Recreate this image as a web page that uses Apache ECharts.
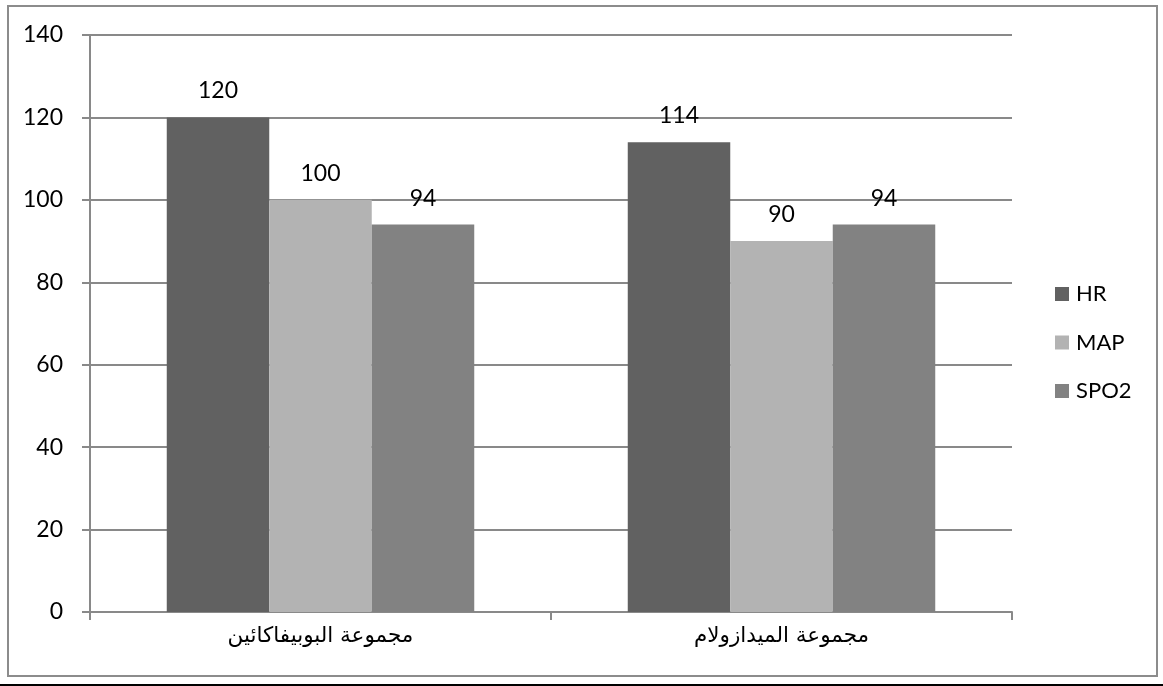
<!DOCTYPE html>
<html>
<head>
<meta charset="utf-8">
<script src="https://cdn.jsdelivr.net/npm/echarts@6/dist/echarts.min.js"></script>
<style>
  html, body { margin: 0; padding: 0; background: #fff; }
  #chart { width: 1163px; height: 686px; }
</style>
</head>
<body>
<div id="chart"></div>
<script>
// Group names (x axis) and the three measured vitals per group
const categories = ['مجموعة البوبيفاكائين', 'مجموعة الميدازولام'];
const hrValues = [120, 114];
const mapValues = [100, 90];
const spo2Values = [94, 94];
const seriesNames = ['HR', 'MAP', 'SPO2'];
const seriesColors = ['#616161', '#b3b3b3', '#828282'];

const latin = 'Lato, "Open Sans", sans-serif';
const arabic = '"DejaVu Sans", Lato, sans-serif';
const gridGray = '#898989';

const chart = echarts.init(document.getElementById('chart'), null, { renderer: 'canvas' });

function barSeries(name, data, color) {
  return {
    name: name,
    type: 'bar',
    data: data,
    barGap: '0%',
    barCategoryGap: '33.3%',
    itemStyle: { color: color },
    label: {
      show: true,
      position: 'top',
      distance: 15,
      color: '#000',
      fontFamily: latin,
      fontSize: 23
    }
  };
}

chart.setOption({
  animation: false,
  backgroundColor: '#fff',
  grid: { left: 90, right: 151, top: 35, bottom: 74, containLabel: false },
  legend: {
    orient: 'vertical',
    left: 1050,
    top: 277,
    itemWidth: 14,
    itemHeight: 14,
    itemGap: 24.5,
    icon: 'rect',
    data: seriesNames,
    textStyle: { fontFamily: latin, fontSize: 22, color: '#000', lineHeight: 24, padding: [0, 0, 0, 2] }
  },
  xAxis: {
    type: 'category',
    data: categories,
    boundaryGap: true,
    axisLine: { show: true, lineStyle: { color: gridGray, width: 2 } },
    axisTick: { show: true, length: 8, lineStyle: { color: gridGray, width: 2 } },
    axisLabel: { color: '#000', fontFamily: arabic, fontSize: 21.5, margin: 13 }
  },
  yAxis: {
    type: 'value',
    min: 0,
    max: 140,
    interval: 20,
    axisLine: { show: true, lineStyle: { color: gridGray, width: 2 } },
    axisTick: { show: true, length: 8, lineStyle: { color: gridGray, width: 2 } },
    splitLine: { show: true, lineStyle: { color: gridGray, width: 2 } },
    axisLabel: { color: '#000', fontFamily: latin, fontSize: 23, margin: 27 }
  },
  series: [
    barSeries(seriesNames[0], hrValues, seriesColors[0]),
    barSeries(seriesNames[1], mapValues, seriesColors[1]),
    barSeries(seriesNames[2], spo2Values, seriesColors[2])
  ],
  graphic: [
    {
      type: 'rect',
      shape: { x: 8, y: 6, width: 1149, height: 670 },
      style: { fill: 'none', stroke: '#8c8c8c', lineWidth: 2 },
      silent: true
    },
    {
      type: 'line',
      shape: { x1: 0, y1: 685, x2: 1163, y2: 685 },
      style: { stroke: '#000', lineWidth: 2 },
      silent: true
    }
  ]
});
</script>
</body>
</html>
